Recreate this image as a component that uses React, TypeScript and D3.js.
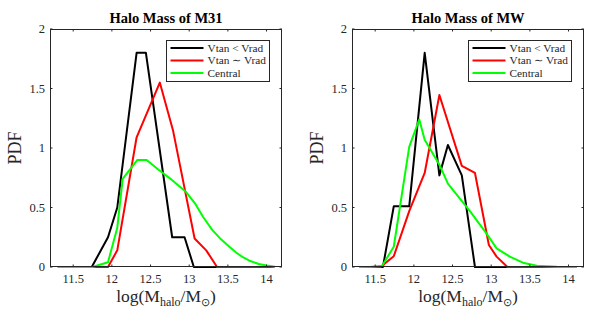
import * as d3 from "d3";

// axis ticks and legend
const xTicks = [11.5, 12, 12.5, 13, 13.5, 14];
const yTicks = [0, 0.5, 1, 1.5, 2];
const seriesNames = ["Vtan < Vrad", "Vtan \u223C Vrad", "Central"];
const seriesColors = ["#000000", "#ff0000", "#00ff00"];
const panelTitles = ["Halo Mass of M31", "Halo Mass of MW"];

// M31 panel
const m31BlackX = [11.74, 11.95, 12.07, 12.32, 12.44, 12.78, 12.94, 13.06, 13.5, 14.1];
const m31BlackY = [0, 0.25, 0.5, 1.8, 1.8, 0.25, 0.25, 0, 0, 0];
const m31RedX = [11.3, 11.95, 12.07, 12.32, 12.62, 12.79, 13.07, 13.22, 13.36, 14.1];
const m31RedY = [0, 0, 0.14, 1.09, 1.55, 1.15, 0.24, 0.14, 0, 0];
const m31GreenX = [11.3, 11.5, 11.75, 11.95, 12.07, 12.14, 12.33, 12.45, 12.6, 12.75, 12.96, 13.08, 13.18, 13.3, 13.4, 13.52, 13.61, 13.7, 13.79, 13.9, 14.0, 14.11];
const m31GreenY = [0, 0, 0, 0.04, 0.33, 0.74, 0.9, 0.9, 0.82, 0.745, 0.63, 0.53, 0.42, 0.31, 0.24, 0.17, 0.12, 0.08, 0.05, 0.025, 0.012, 0.003];

// MW panel
const mwBlackX = [11.3, 11.6, 11.74, 11.94, 12.14, 12.33, 12.44, 12.62, 12.79, 13.5, 14.1];
const mwBlackY = [0, 0, 0.51, 0.51, 1.8, 0.77, 1.025, 0.77, 0, 0, 0];
const mwRedX = [11.3, 11.57, 11.74, 11.94, 12.14, 12.33, 12.62, 12.79, 12.97, 13.07, 13.21, 14.1];
const mwRedY = [0, 0, 0.09, 0.47, 0.79, 1.445, 0.85, 0.79, 0.185, 0.087, 0, 0];
const mwGreenX = [11.3, 11.45, 11.59, 11.74, 11.94, 12.07, 12.14, 12.33, 12.44, 12.6, 12.73, 12.94, 13.07, 13.24, 13.41, 13.59, 13.85, 14.11];
const mwGreenY = [0, 0.003, 0.01, 0.17, 1.01, 1.24, 1.07, 0.86, 0.7, 0.57, 0.465, 0.28, 0.157, 0.087, 0.036, 0.011, 0.003, 0];

const panelSeries = [
  [
    [m31BlackX, m31BlackY],
    [m31RedX, m31RedY],
    [m31GreenX, m31GreenY],
  ],
  [
    [mwBlackX, mwBlackY],
    [mwRedX, mwRedY],
    [mwGreenX, mwGreenY],
  ],
];

const W = 598;
const H = 326;
const top = 29;
const bottom = 267;
const plotW = 232;
const lefts = [50, 352];
const axisColor = "#262626";
const font = "'Liberation Serif', 'Times New Roman', serif";

function Panel({ idx }: { idx: number }) {
  const left = lefts[idx];
  const x = d3.scaleLinear().domain([11.2, 14.2]).range([left, left + plotW]);
  const y = d3.scaleLinear().domain([0, 2]).range([bottom, top]);
  const line = d3
    .line<[number, number]>()
    .x((d) => x(d[0]))
    .y((d) => y(d[1]));

  const lgX = left + 116.5;
  const lgY = 40.5;
  const tick = 2.5;

  return (
    <g>
      <rect x={left} y={top} width={plotW} height={bottom - top} fill="#fff" />
      {panelSeries[idx].map(([xs, ys], i) => (
        <path
          key={i}
          d={line(xs.map((v, j) => [v, ys[j]] as [number, number])) || ""}
          fill="none"
          stroke={seriesColors[i]}
          strokeWidth={2}
          strokeLinejoin="round"
        />
      ))}
      {/* frame */}
      <rect
        x={left + 0.5}
        y={top + 0.5}
        width={plotW - 1}
        height={bottom - top - 1}
        fill="none"
        stroke={axisColor}
        strokeWidth={1}
      />
      {xTicks.map((t) => (
        <g key={"x" + t}>
          <line x1={x(t)} x2={x(t)} y1={bottom} y2={bottom - tick} stroke={axisColor} />
          <line x1={x(t)} x2={x(t)} y1={top} y2={top + tick} stroke={axisColor} />
          <text
            x={x(t)}
            y={283}
            textAnchor="middle"
            fontSize={12.5}
            fontFamily={font}
            fill={axisColor}
          >
            {t}
          </text>
        </g>
      ))}
      {yTicks.map((t) => (
        <g key={"y" + t}>
          <line x1={left} x2={left + tick} y1={y(t)} y2={y(t)} stroke={axisColor} />
          <line x1={left + plotW} x2={left + plotW - tick} y1={y(t)} y2={y(t)} stroke={axisColor} />
          <text
            x={left - 5}
            y={y(t)}
            dy="0.35em"
            textAnchor="end"
            fontSize={12.5}
            fontFamily={font}
            fill={axisColor}
          >
            {t}
          </text>
        </g>
      ))}
      <text
        x={left + plotW / 2}
        y={23}
        textAnchor="middle"
        fontSize={14.5}
        fontWeight="bold"
        fontFamily={font}
        fill="#000"
      >
        {panelTitles[idx]}
      </text>
      <text
        transform={`translate(${left - 29},${(top + bottom) / 2}) rotate(-90)`}
        textAnchor="middle"
        fontSize={18}
        fontFamily={font}
        fill={axisColor}
      >
        PDF
      </text>
      <text
        x={left + plotW / 2}
        y={302}
        textAnchor="middle"
        fontSize={17.5}
        fontFamily={font}
        fill={axisColor}
      >
        log(M
        <tspan fontSize={12} dy={4}>halo</tspan>
        <tspan dy={-4}>/M</tspan>
        <tspan fontSize={11} dy={4}>{"\u2299"}</tspan>
        <tspan dy={-4}>)</tspan>
      </text>
      {/* legend */}
      <rect x={lgX} y={lgY} width={103} height={41} fill="#fff" stroke={axisColor} strokeWidth={1} />
      {seriesNames.map((name, i) => {
        const ry = 48 + 12.5 * i;
        return (
          <g key={name}>
            <line x1={lgX + 4} x2={lgX + 37} y1={ry} y2={ry} stroke={seriesColors[i]} strokeWidth={2} />
            <text
              x={lgX + 41}
              y={ry}
              dy="0.35em"
              fontSize={11.3}
              fontFamily={font}
              fill={axisColor}
            >
              {name}
            </text>
          </g>
        );
      })}
    </g>
  );
}

export default function App() {
  return (
    <svg
      width={W}
      height={H}
      viewBox={`0 0 ${W} ${H}`}
      style={{ position: "absolute", left: 0, top: 0, background: "#fff" }}
    >
      <rect width={W} height={H} fill="#fff" />
      <Panel idx={0} />
      <Panel idx={1} />
    </svg>
  );
}
